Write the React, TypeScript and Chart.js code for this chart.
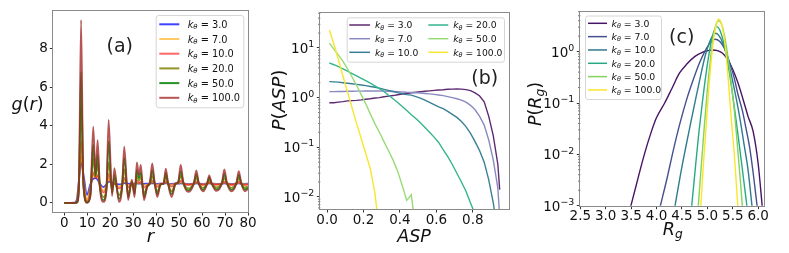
import React, { useEffect, useRef } from 'react';
import { Chart, registerables } from 'chart.js';

Chart.register(...registerables);

const FONT = '"DejaVu Sans", "Liberation Sans", sans-serif';
const H = 253;

const K_VALUES = ['3.0', '7.0', '10.0', '20.0', '50.0', '100.0'];

// ---------- panel (a): g(r) ----------
const R = [0, 4.5, 5.5, 6.3, 7.3, 8.3, 9.9, 11.3, 12.6, 13.6, 14.5, 15.5, 17, 18.3, 19.3, 20.8, 21.8, 23.8, 25.1, 26.1, 27.8, 29.4, 30.6, 31.6, 32.5, 33.3, 34.7, 36.1, 37.3, 38.3, 39.3, 40.5, 42, 43.2, 44.2, 45.2, 46.7, 48.5, 49.6, 50.7, 51.8, 53.9, 56.4, 57.5, 58.6, 60.4, 62.1, 63.1, 64.2, 66.2, 68.6, 69.7, 70.8, 72.8, 74.9, 76.0, 77.1, 78.6, 80];
const G_K3 = [0, 0.02, 0.2, 1.1, 2.1, 1.5, 0.42, 0.95, 1.25, 1.28, 1.2, 1.0, 0.82, 0.95, 1.1, 1.05, 1.0, 0.96, 0.98, 1.03, 1.0, 0.99, 1.0, 1.01, 1.0, 1.0, 0.99, 1.0, 1.0, 1.02, 1.0, 0.99, 1.0, 1.0, 1.02, 1.0, 0.99, 1.0, 1.0, 1.01, 1.0, 0.99, 1.0, 1.01, 1.0, 0.99, 1.0, 1.01, 1.0, 0.99, 1.0, 1.01, 1.0, 0.99, 1.0, 1.01, 1.0, 0.99, 1.0];
const G_K7 = [0, 0, 0.08, 1.0, 2.4, 1.3, 0.2, 0.8, 1.45, 1.35, 1.35, 0.95, 0.65, 0.9, 1.25, 0.95, 1.0, 0.85, 0.95, 1.15, 0.9, 1.0, 0.95, 1.05, 1.0, 1.05, 0.92, 0.95, 1.0, 1.08, 1.0, 0.95, 0.98, 1.0, 1.07, 1.0, 0.95, 1.0, 1.0, 1.07, 1.0, 0.97, 1.0, 1.05, 1.0, 0.97, 1.0, 1.03, 1.0, 0.97, 1.0, 1.05, 1.0, 0.97, 1.0, 1.04, 1.0, 0.97, 0.98];
const G_K10 = [0, 0, 0.06, 0.9, 3.2, 1.2, 0.1, 0.6, 1.6, 1.3, 1.45, 0.9, 0.55, 0.8, 1.5, 0.85, 1.0, 0.75, 0.9, 1.3, 0.8, 1.0, 0.85, 1.15, 1.05, 1.1, 0.8, 0.9, 1.0, 1.15, 1.0, 0.85, 0.95, 1.0, 1.12, 1.0, 0.85, 1.0, 1.02, 1.15, 1.02, 0.92, 1.0, 1.1, 1.0, 0.92, 0.99, 1.07, 1.0, 0.93, 1.0, 1.1, 1.0, 0.92, 1.0, 1.1, 1.0, 0.92, 0.95];
const G_K20 = [0, 0, 0.04, 0.8, 5.0, 1.1, 0.05, 0.4, 2.3, 1.35, 2.0, 0.85, 0.3, 0.7, 2.1, 0.65, 1.2, 0.4, 0.8, 1.75, 0.5, 1.05, 0.6, 1.4, 1.15, 1.35, 0.5, 0.85, 1.0, 1.4, 1.0, 0.6, 0.95, 1.0, 1.35, 1.0, 0.6, 1.0, 1.05, 1.4, 1.05, 0.75, 1.0, 1.3, 1.0, 0.78, 0.98, 1.2, 1.0, 0.8, 1.0, 1.3, 1.02, 0.78, 1.0, 1.28, 1.0, 0.8, 0.85];
const G_K50 = [0, 0, 0.03, 0.7, 6.8, 1.0, 0.02, 0.35, 3.0, 1.4, 2.5, 0.8, 0.15, 0.65, 3.2, 0.5, 1.45, 0.2, 0.75, 2.35, 0.3, 1.1, 0.45, 1.7, 1.3, 1.6, 0.3, 0.85, 1.05, 1.7, 1.05, 0.45, 0.98, 1.0, 1.55, 1.0, 0.45, 1.0, 1.05, 1.65, 1.05, 0.65, 1.0, 1.48, 1.0, 0.68, 0.97, 1.32, 1.0, 0.7, 1.0, 1.5, 1.03, 0.68, 1.0, 1.45, 1.0, 0.7, 0.78];
const G_K100 = [0, 0, 0.02, 0.6, 9.47, 0.9, 0.0, 0.3, 3.95, 1.5, 3.25, 0.8, 0.05, 0.6, 4.3, 0.35, 1.8, 0.05, 0.7, 2.92, 0.15, 1.2, 0.3, 2.1, 1.45, 1.97, 0.14, 0.83, 1.1, 2.05, 1.1, 0.3, 1.0, 1.0, 1.78, 1.0, 0.3, 1.0, 1.1, 1.97, 1.1, 0.57, 1.0, 1.68, 1.0, 0.6, 0.95, 1.43, 1.0, 0.62, 1.0, 1.73, 1.05, 0.6, 1.0, 1.65, 1.0, 0.6, 0.72];
const X_TICKS_A = [0, 10, 20, 30, 40, 50, 60, 70, 80];
const Y_TICKS_A = [0, 2, 4, 6, 8];
const COLORS_A = ['rgba(0,0,255,0.75)', 'rgba(255,165,0,0.6)', 'rgba(255,0,0,0.6)', 'rgba(128,128,0,0.85)', 'rgba(0,128,0,0.85)', 'rgba(165,42,42,0.8)'];

// ---------- panel (b): P(ASP) ----------
const ASP = [0.0125, 0.0375, 0.0625, 0.0875, 0.1125, 0.1375, 0.1625, 0.1875, 0.2125, 0.2375, 0.2625, 0.2875, 0.3125, 0.3375, 0.3625, 0.3875, 0.4125, 0.4375, 0.4625, 0.4875, 0.5125, 0.5375, 0.5625, 0.5875, 0.6125, 0.6375, 0.6625, 0.6875, 0.7125, 0.7375, 0.7625, 0.7875, 0.8125, 0.8375, 0.8625, 0.8875, 0.9125, 0.9375, 0.9475];
const PASP_K3 = [0.79, 0.79, 0.81, 0.83, 0.86, 0.87, 0.88, 0.9, 0.93, 0.95, 0.98, 1.0, 1.04, 1.07, 1.1, 1.14, 1.18, 1.21, 1.25, 1.28, 1.31, 1.34, 1.37, 1.4, 1.42, 1.44, 1.47, 1.48, 1.49, 1.48, 1.45, 1.38, 1.25, 1.08, 0.82, 0.42, 0.17, 0.045, 0.014];
const PASP_K7 = [1.32, 1.32, 1.33, 1.33, 1.34, 1.34, 1.35, 1.35, 1.36, 1.36, 1.36, 1.36, 1.35, 1.34, 1.33, 1.32, 1.3, 1.28, 1.27, 1.25, 1.23, 1.21, 1.19, 1.16, 1.13, 1.1, 1.05, 1.0, 0.95, 0.89, 0.81, 0.7, 0.57, 0.42, 0.28, 0.14, 0.055, 0.015, 0.004];
const PASP_K10 = [2.1, 2.08, 2.05, 2.0, 1.95, 1.9, 1.85, 1.8, 1.74, 1.68, 1.62, 1.55, 1.47, 1.4, 1.33, 1.26, 1.2, 1.15, 1.12, 1.05, 0.98, 0.89, 0.8, 0.72, 0.65, 0.6, 0.53, 0.46, 0.4, 0.33, 0.26, 0.19, 0.13, 0.085, 0.05, 0.022, 0.0075, 0.002];
const PASP_K20 = [5.0, 4.6, 4.2, 3.8, 3.4, 3.05, 2.75, 2.45, 2.2, 1.95, 1.72, 1.52, 1.33, 1.12, 0.95, 0.8, 0.66, 0.55, 0.45, 0.38, 0.31, 0.25, 0.2, 0.16, 0.125, 0.09, 0.065, 0.045, 0.03, 0.02, 0.013, 0.0075, 0.0045];
const PASP_K50 = [12.5, 9.5, 7.2, 5.4, 3.8, 2.6, 1.75, 1.15, 0.75, 0.47, 0.3, 0.2, 0.13, 0.085, 0.055, 0.033, 0.017, 0.0085, 0.011, 0.002];
const PASP_K100 = [23, 12, 5.8, 2.7, 1.3, 0.62, 0.3, 0.15, 0.075, 0.037, 0.012, 0.002];
const X_TICKS_B = [0, 0.2, 0.4, 0.6, 0.8];
const Y_TICKS_B = [0.01, 0.1, 1, 10];
const Y_EXP_B = ['−2', '−1', '0', '1'];
const COLORS_B = ['#5e2a72', '#8a8ac0', '#3a8095', '#35b48e', '#98db78', '#f8e530'];

// ---------- panel (c): P(Rg) ----------
const RG_K3 = [3.49, 3.6, 3.76, 3.9, 4.0, 4.16, 4.3, 4.45, 4.6, 4.75, 4.9, 5.0, 5.1, 5.2, 5.3, 5.4, 5.5, 5.6, 5.7, 5.8, 5.9, 6.0, 6.08];
const PRG_K3 = [0.00095, 0.0025, 0.01, 0.028, 0.052, 0.1, 0.19, 0.38, 0.58, 0.8, 0.97, 1.04, 1.08, 1.05, 0.93, 0.7, 0.45, 0.25, 0.12, 0.055, 0.028, 0.0065, 0.00095];
const RG_K7 = [4.07, 4.2, 4.33, 4.46, 4.59, 4.72, 4.85, 4.98, 5.07, 5.15, 5.24, 5.33, 5.43, 5.52, 5.6, 5.69, 5.76, 5.83, 5.91, 5.98];
const PRG_K7 = [0.00095, 0.0032, 0.012, 0.04, 0.115, 0.28, 0.62, 1.15, 1.55, 1.75, 1.6, 1.2, 0.65, 0.33, 0.15, 0.07, 0.032, 0.014, 0.0037, 0.00095];
const RG_K10 = [4.36, 4.47, 4.57, 4.67, 4.77, 4.87, 4.96, 5.04, 5.1, 5.16, 5.22, 5.3, 5.38, 5.46, 5.55, 5.64, 5.72, 5.8, 5.88];
const PRG_K10 = [0.00095, 0.004, 0.013, 0.04, 0.12, 0.35, 0.85, 1.5, 2.0, 2.28, 2.1, 1.5, 0.85, 0.4, 0.15, 0.05, 0.016, 0.005, 0.00095];
const RG_K20 = [4.69, 4.76, 4.83, 4.9, 4.97, 5.04, 5.1, 5.18, 5.24, 5.3, 5.37, 5.44, 5.52, 5.6, 5.68, 5.78];
const PRG_K20 = [0.00095, 0.005, 0.025, 0.1, 0.35, 1.0, 2.0, 3.07, 2.7, 1.8, 0.9, 0.35, 0.1, 0.025, 0.006, 0.00095];
const RG_K50 = [4.82, 4.88, 4.94, 5.0, 5.06, 5.12, 5.18, 5.22, 5.27, 5.33, 5.39, 5.45, 5.52, 5.58, 5.64, 5.69];
const PRG_K50 = [0.00095, 0.006, 0.035, 0.18, 0.7, 2.0, 3.6, 4.0, 3.6, 2.2, 1.0, 0.35, 0.09, 0.02, 0.004, 0.00095];
const RG_K100 = [4.87, 4.92, 4.98, 5.03, 5.08, 5.13, 5.18, 5.22, 5.27, 5.32, 5.37, 5.42, 5.47, 5.53, 5.6];
const PRG_K100 = [0.00095, 0.006, 0.04, 0.2, 0.75, 2.0, 3.5, 4.3, 3.7, 2.2, 0.85, 0.22, 0.05, 0.01, 0.00095];
const X_TICKS_C = [2.5, 3.0, 3.5, 4.0, 4.5, 5.0, 5.5, 6.0];
const Y_TICKS_C = [0.001, 0.01, 0.1, 1];
const Y_EXP_C = ['−3', '−2', '−1', '0'];
const COLORS_C = ['#481467', '#46508f', '#2f7b8f', '#26a985', '#84d35c', '#fbe52a'];

// ---------- drawing helpers ----------
type Part = { t: string; it?: boolean; s?: number; dy?: number };

function fontOf(p: Part, size: number) {
  return `${p.it ? 'italic ' : ''}${(size * (p.s || 1)).toFixed(2)}px ${FONT}`;
}

function drawParts(ctx: CanvasRenderingContext2D, parts: Part[], x: number, y: number, size: number, align: 'left' | 'center' | 'right') {
  let w = 0;
  for (const p of parts) {
    ctx.font = fontOf(p, size);
    w += ctx.measureText(p.t).width;
  }
  let cx = align === 'center' ? x - w / 2 : align === 'right' ? x - w : x;
  ctx.textAlign = 'left';
  ctx.textBaseline = 'alphabetic';
  for (const p of parts) {
    ctx.font = fontOf(p, size);
    ctx.fillText(p.t, cx, y + (p.dy || 0) * size);
    cx += ctx.measureText(p.t).width;
  }
}

const kParts = (label: string): Part[] => [
  { t: 'k', it: true },
  { t: 'θ', it: true, s: 0.7, dy: 0.16 },
  { t: ' = ' + label },
];

type LegendItem = { label: string; color: string; x0: number; x1: number; tx: number; y: number };
type Legend = { box: number[]; fs: number; lw: number; items: LegendItem[] };
type TextItem = { parts: Part[]; x: number; y: number; size: number; rotate?: boolean; color?: string };

const TICK_SIZE = 13.5;

function decorPlugin(cfg: { legend: Legend; texts: TextItem[]; logTicks?: number[]; logExp?: string[] }) {
  return {
    id: 'decor',
    afterDraw(chart: any) {
      const ctx: CanvasRenderingContext2D = chart.ctx;
      const a = chart.chartArea;
      ctx.save();
      // log axis: minor tick marks and power-of-ten labels
      if (cfg.logTicks && cfg.logExp) {
        const ys = chart.scales.y;
        ctx.strokeStyle = '#444';
        ctx.lineWidth = 0.8;
        const d0 = Math.floor(Math.log10(ys.min));
        const d1 = Math.ceil(Math.log10(ys.max));
        for (let d = d0; d <= d1; d++) {
          for (let m = 2; m <= 9; m++) {
            const v = m * Math.pow(10, d);
            if (v < ys.min || v > ys.max) continue;
            const py = ys.getPixelForValue(v);
            ctx.beginPath();
            ctx.moveTo(a.left, py);
            ctx.lineTo(a.left - 2.2, py);
            ctx.stroke();
          }
        }
        ctx.fillStyle = '#111';
        cfg.logTicks.forEach((v, i) => {
          const py = ys.getPixelForValue(v);
          drawParts(ctx, [{ t: '10' }, { t: cfg.logExp![i], s: 0.7, dy: -0.42 }], a.left - 6, py + 0.36 * TICK_SIZE, TICK_SIZE, 'right');
        });
      }
      // frame
      ctx.strokeStyle = '#8a8a8a';
      ctx.lineWidth = 1;
      const l = Math.round(a.left) - 0.5, t = Math.round(a.top) - 0.5;
      ctx.strokeRect(l, t, Math.round(a.right) - Math.round(a.left) + 1, Math.round(a.bottom) - Math.round(a.top) + 1);
      // legend
      const lg = cfg.legend;
      const [bx0, by0, bx1, by1] = lg.box;
      ctx.beginPath();
      (ctx as any).roundRect(bx0 + 0.5, by0 + 0.5, bx1 - bx0, by1 - by0, 2.5);
      ctx.fillStyle = 'rgba(255,255,255,0.85)';
      ctx.fill();
      ctx.strokeStyle = '#d6d6d6';
      ctx.lineWidth = 1;
      ctx.stroke();
      for (const it of lg.items) {
        ctx.strokeStyle = it.color;
        ctx.lineWidth = lg.lw;
        ctx.beginPath();
        ctx.moveTo(it.x0, it.y);
        ctx.lineTo(it.x1, it.y);
        ctx.stroke();
        ctx.fillStyle = '#111';
        drawParts(ctx, kParts(it.label), it.tx, it.y + 0.36 * lg.fs, lg.fs, 'left');
      }
      // texts
      for (const tx of cfg.texts) {
        ctx.fillStyle = tx.color || '#111';
        if (tx.rotate) {
          ctx.save();
          ctx.translate(tx.x, tx.y);
          ctx.rotate(-Math.PI / 2);
          drawParts(ctx, tx.parts, 0, 0.32 * tx.size, tx.size, 'center');
          ctx.restore();
        } else {
          drawParts(ctx, tx.parts, tx.x, tx.y, tx.size, 'center');
        }
      }
      ctx.restore();
    },
  };
}

const TICK_FONT = { family: FONT, size: TICK_SIZE, lineHeight: 1 };
const GRID = { display: true, drawOnChartArea: false, drawTicks: true, tickLength: 3.5, tickColor: '#333', tickWidth: 1 };

function xAxis(min: number, max: number, ticks: number[], fmt: (v: number) => string, height: number) {
  return {
    type: 'linear',
    min,
    max,
    afterBuildTicks: (s: any) => { s.ticks = ticks.map((v) => ({ value: v })); },
    afterFit: (s: any) => { s.height = height; },
    ticks: { callback: (v: number) => fmt(v), font: TICK_FONT, color: '#111', padding: 1, maxRotation: 0, autoSkip: false },
    grid: GRID,
    border: { display: false },
  };
}

function yAxis(type: string, min: number, max: number, ticks: number[], labels: string[] | null, width: number) {
  return {
    type,
    min,
    max,
    afterBuildTicks: (s: any) => { s.ticks = ticks.map((v) => ({ value: v })); },
    afterFit: (s: any) => { s.width = width; },
    ticks: { callback: (_v: number, i: number) => (labels ? labels[i] : ''), font: TICK_FONT, color: '#111', padding: 2, autoSkip: false },
    grid: GRID,
    border: { display: false },
  };
}

function baseOptions(pad: any, x: any, y: any) {
  return {
    responsive: false,
    maintainAspectRatio: false,
    devicePixelRatio: 1,
    animation: false,
    events: [],
    layout: { padding: pad },
    plugins: { legend: { display: false }, tooltip: { enabled: false }, title: { display: false } },
    scales: { x, y },
    elements: { point: { radius: 0 } },
  };
}

// ---------- configs ----------
function configA() {
  const series = [G_K3, G_K7, G_K10, G_K20, G_K50, G_K100];
  return {
    type: 'line',
    data: {
      datasets: series.map((ys, i) => ({
        label: K_VALUES[i],
        data: ys.map((y, j) => ({ x: R[j], y })),
        borderColor: COLORS_A[i],
        borderWidth: 1.8,
        cubicInterpolationMode: 'monotone',
        order: 5 - i,
      })),
    },
    options: baseOptions(
      { left: 0, top: 11, right: 15, bottom: 0 },
      xAxis(-4.8, 80, X_TICKS_A, (v) => String(v), 41),
      yAxis('linear', -0.47, 9.94, Y_TICKS_A, Y_TICKS_A.map(String), 53.3),
    ),
    plugins: [
      decorPlugin({
        legend: {
          box: [155.7, 15, 243.3, 107.3], fs: 9.8, lw: 2,
          items: K_VALUES.map((k, i) => ({ label: k, color: COLORS_A[i], x0: 159.3, x1: 179.3, tx: 187.7, y: 24.3 + i * 14.7 })),
        },
        texts: [
          { parts: [{ t: '(a)' }], x: 119.7, y: 51.5, size: 19, color: '#222' },
          { parts: [{ t: 'r', it: true }], x: 150.5, y: 241.5, size: 18 },
          { parts: [{ t: 'g', it: true }, { t: '(' }, { t: 'r', it: true }, { t: ')' }], x: 27.5, y: 109.5, size: 17.5 },
        ],
      }),
    ],
  };
}

function configB() {
  const series = [PASP_K3, PASP_K7, PASP_K10, PASP_K20, PASP_K50, PASP_K100];
  const rows = [25, 38.7, 52.3];
  return {
    type: 'line',
    data: {
      datasets: series.map((ys, i) => ({
        label: K_VALUES[i],
        data: ys.map((y, j) => ({ x: ASP[j], y })),
        borderColor: COLORS_B[i],
        borderWidth: 1.4,
        order: 5 - i,
      })),
    },
    options: baseOptions(
      { left: 0, top: 13.3, right: 17.3, bottom: 0 },
      xAxis(-0.037, 0.997, X_TICKS_B, (v) => v.toFixed(1), 44),
      yAxis('logarithmic', 0.0057, 50, Y_TICKS_B, null, 57.3),
    ),
    plugins: [
      decorPlugin({
        logTicks: Y_TICKS_B,
        logExp: Y_EXP_B,
        legend: {
          box: [83.7, 17.3, 241, 61.7], fs: 9.2, lw: 1.5,
          items: K_VALUES.map((k, i) => {
            const col = i < 3 ? 0 : 1;
            return { label: k, color: COLORS_B[i], x0: col ? 165.3 : 86.3, x1: col ? 185.3 : 107, tx: col ? 190.3 : 112, y: rows[i % 3] };
          }),
        },
        texts: [
          { parts: [{ t: '(b)' }], x: 221.7, y: 83.5, size: 19, color: '#222' },
          { parts: [{ t: 'ASP', it: true }], x: 151, y: 241.5, size: 17.5 },
          { parts: [{ t: 'P', it: true }, { t: '(' }, { t: 'ASP', it: true }, { t: ')' }], x: 16.5, y: 100, size: 18.5, rotate: true },
        ],
      }),
    ],
  };
}

function configC() {
  const xs = [RG_K3, RG_K7, RG_K10, RG_K20, RG_K50, RG_K100];
  const ysAll = [PRG_K3, PRG_K7, PRG_K10, PRG_K20, PRG_K50, PRG_K100];
  return {
    type: 'line',
    data: {
      datasets: ysAll.map((ys, i) => ({
        label: K_VALUES[i],
        data: ys.map((y, j) => ({ x: xs[i][j], y })),
        borderColor: COLORS_C[i],
        borderWidth: 1.4,
        cubicInterpolationMode: 'monotone',
        order: 5 - i,
      })),
    },
    options: baseOptions(
      { left: 0, top: 11.7, right: 24.7, bottom: 0 },
      xAxis(2.5, 6.12, X_TICKS_C, (v) => v.toFixed(1), 47.3),
      yAxis('logarithmic', 0.001, 6.0, Y_TICKS_C, null, 54.3),
    ),
    plugins: [
      decorPlugin({
        logTicks: Y_TICKS_C,
        logExp: Y_EXP_C,
        legend: {
          box: [59, 15.5, 135, 99], fs: 9.3, lw: 1.5,
          items: K_VALUES.map((k, i) => ({ label: k, color: COLORS_C[i], x0: 62, x1: 81, tx: 85.5, y: 23.3 + i * 13.33 })),
        },
        texts: [
          { parts: [{ t: '(c)' }], x: 155.7, y: 43.2, size: 19, color: '#222' },
          { parts: [{ t: 'R', it: true }, { t: 'g', it: true, s: 0.7, dy: 0.18 }], x: 146.7, y: 235, size: 17.5 },
          { parts: [{ t: 'P', it: true }, { t: '(' }, { t: 'R', it: true }, { t: 'g', it: true, s: 0.7, dy: 0.18 }, { t: ')' }], x: 9, y: 104, size: 17.5, rotate: true },
        ],
      }),
    ],
  };
}

function Panel({ left, width, build }: { left: number; width: number; build: () => any }) {
  const ref = useRef<HTMLCanvasElement>(null);
  useEffect(() => {
    const chart = new Chart(ref.current as HTMLCanvasElement, build());
    return () => chart.destroy();
  }, []);
  return (
    <canvas
      ref={ref}
      width={width}
      height={H}
      style={{ position: 'absolute', left, top: 0, width, height: H, display: 'block' }}
    />
  );
}

export default function App() {
  return (
    <div style={{ position: 'fixed', left: 0, top: 0, width: 789, height: H, background: '#fff', overflow: 'hidden' }}>
      <Panel left={0} width={263} build={configA} />
      <Panel left={263} width={263} build={configB} />
      <Panel left={526} width={263} build={configC} />
    </div>
  );
}
